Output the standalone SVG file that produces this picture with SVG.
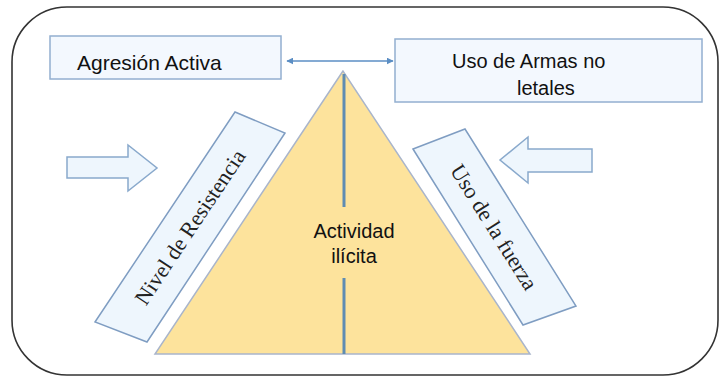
<svg xmlns="http://www.w3.org/2000/svg" width="720" height="378" viewBox="0 0 720 378">
<style>
.box{fill:#f3f8fe;stroke:#93afd0;stroke-width:1.5}
.band{fill:#eef6fd;stroke:#7f9dc2;stroke-width:1.5}
.barrow{fill:#eef6fd;stroke:#89a9cc;stroke-width:1.5}
.sans{font-family:"Liberation Sans",Arial,sans-serif;font-size:20px;fill:#111}
.serif{font-family:"Liberation Serif","Times New Roman",serif;font-size:22px;fill:#222}
.conn{stroke:#5b8ec4;stroke-width:1.5;fill:none}
</style>
<defs>
<marker id="ah" viewBox="0 0 10 10" refX="9" refY="5" markerWidth="7" markerHeight="7" orient="auto-start-reverse" markerUnits="userSpaceOnUse">
<path d="M0,0 L10,5 L0,10 z" fill="#5b8ec4"/>
</marker>
</defs>
<rect x="12" y="7" width="706" height="368" rx="55" ry="55" fill="#fff" stroke="#333" stroke-width="1.6"/>
<g id="triangle">
<polygon points="343,71 155,354 530,354" fill="#fde39c" stroke="#a9b5cb" stroke-width="1.5"/>
<line x1="344" y1="74" x2="344" y2="207" stroke="#5f8cb2" stroke-width="3"/>
<line x1="344" y1="278" x2="344" y2="354" stroke="#5f8cb2" stroke-width="3"/>
<text class="sans" x="354" y="238" text-anchor="middle">Actividad</text>
<text class="sans" x="354" y="263" text-anchor="middle">ilícita</text>
</g>
<g id="agresion">
<rect class="box" x="50" y="36" width="231" height="43"/>
<text class="sans" x="77" y="70" font-size="21" style="font-size:21px">Agresión Activa</text>
</g>
<g id="armas">
<rect class="box" x="395" y="39" width="307" height="63"/>
<text class="sans" x="452" y="68">Uso de Armas no</text>
<text class="sans" x="517" y="95">letales</text>
</g>
<g id="nivel">
<polygon class="band" points="95,322 235,112 285,133 147,342"/>
<text class="serif" transform="translate(190,227) rotate(-56.3)" text-anchor="middle" dominant-baseline="central">Nivel de Resistencia</text>
</g>
<g id="fuerza">
<polygon class="band" points="413,149 465,129 576,306 523,325"/>
<text class="serif" transform="translate(494,227) rotate(57.8)" text-anchor="middle" dominant-baseline="central">Uso de la fuerza</text>
</g>
<g id="arrow-left">
<polygon class="barrow" points="67,157 128,157 128,145 157,168 128,191 128,178 67,178"/>
</g>
<g id="arrow-right">
<polygon class="barrow" points="592,149 528,149 528,137 500,160 528,183 528,172 592,172"/>
</g>
<g id="connectors">
<line class="conn" x1="287" y1="61" x2="393" y2="61" marker-start="url(#ah)" marker-end="url(#ah)"/>
</g>
</svg>
